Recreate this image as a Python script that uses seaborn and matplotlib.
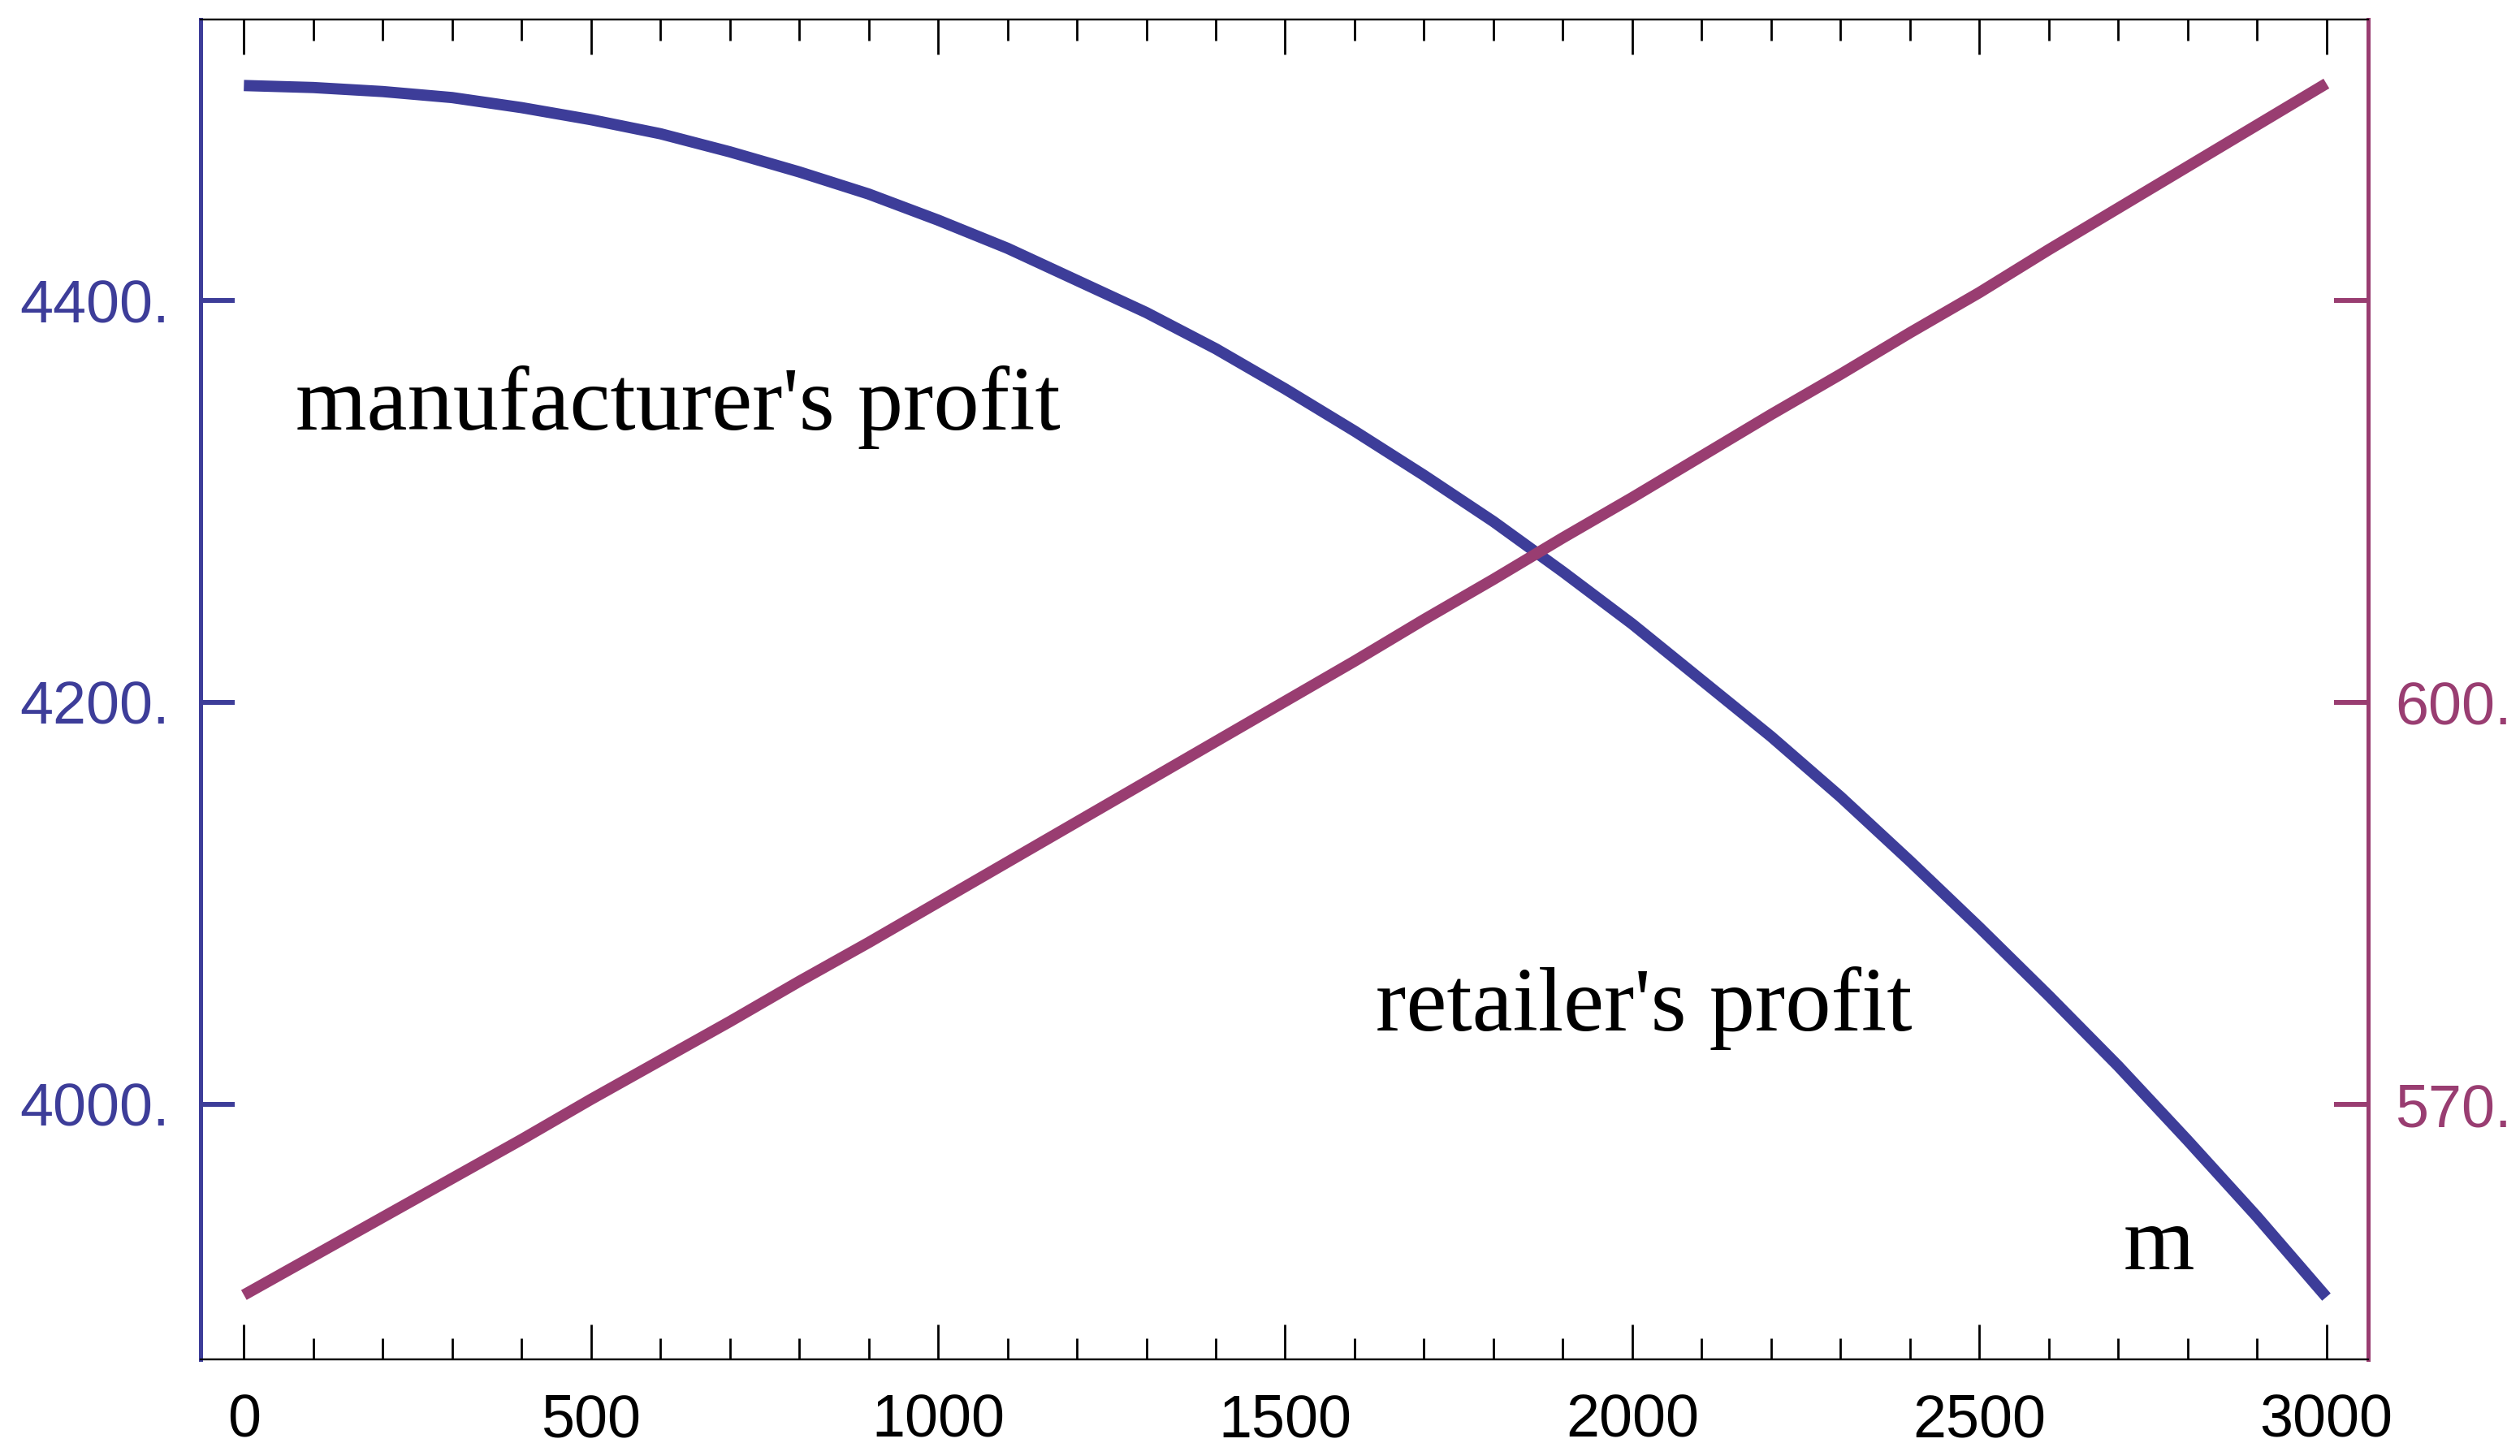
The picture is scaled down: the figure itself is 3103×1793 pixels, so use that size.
import matplotlib
matplotlib.use("Agg")
import matplotlib.pyplot as plt
import matplotlib.ticker as mticker
import numpy as np
import pandas as pd
import seaborn as sns

# values
m_values = [0, 100, 200, 300, 400, 500, 600, 700, 800, 900, 1000,
            1100, 1200, 1300, 1400, 1500, 1600, 1700, 1800, 1900, 2000,
            2100, 2200, 2300, 2400, 2500, 2600, 2700, 2800, 2900, 3000]
manufacturer_profit = [4507, 4506, 4504, 4501, 4496, 4490, 4483, 4474, 4464, 4453, 4440,
                       4426, 4410, 4394, 4376, 4356, 4335, 4313, 4290, 4265, 4239,
                       4211, 4183, 4153, 4121, 4088, 4054, 4019, 3982, 3944, 3904]
retailer_profit = [555.8, 558.7, 561.6, 564.5, 567.4, 570.4, 573.3, 576.2, 579.2, 582.1, 585.1,
                   588.1, 591.1, 594.1, 597.1, 600.1, 603.1, 606.2, 609.2, 612.3, 615.3,
                   618.4, 621.5, 624.5, 627.6, 630.6, 633.8, 636.9, 640.0, 643.1, 646.2]

x_major = [0, 500, 1000, 1500, 2000, 2500, 3000]
left_ticks = [4000, 4200, 4400]
right_ticks = [570, 600, 630]
right_labels = ["570.", "600.", ""]

blue = "#3D3D99"
purple = "#993D71"

sns.set_style("white")
plt.rcParams["font.family"] = ["Liberation Sans", "DejaVu Sans"]

df = pd.DataFrame({"m": m_values, "manufacturer": manufacturer_profit, "retailer": retailer_profit})

fig = plt.figure(figsize=(31.03, 17.93), dpi=100)
ax = fig.add_axes([0.0797, 0.0664, 0.86, 0.9204])
ax2 = ax.twinx()

sns.lineplot(data=df, x="m", y="manufacturer", ax=ax, color=blue, linewidth=10, solid_capstyle="butt")
sns.lineplot(data=df, x="m", y="retailer", ax=ax2, color=purple, linewidth=10, solid_capstyle="butt")

ax.set_xlim(-62, 3060)
ax.set_ylim(3873, 4540)
ax2.set_ylim(551, 651)
ax.set_xlabel("")
ax.set_ylabel("")
ax2.set_ylabel("")

# x axis: black, ticks inside on bottom and top
ax.xaxis.set_major_locator(mticker.FixedLocator(x_major))
ax.xaxis.set_minor_locator(mticker.MultipleLocator(100))
ax.tick_params(axis="x", which="major", direction="in", length=31, width=2, color="black",
               top=True, bottom=True, labelsize=53, pad=30, labelcolor="black")
ax.tick_params(axis="x", which="minor", direction="in", length=19, width=2, color="black",
               top=True, bottom=True)

# left y axis in blue
ax.set_yticks(left_ticks)
ax.yaxis.set_major_formatter(mticker.FuncFormatter(lambda v, p: f"{v:.0f}."))
ax.tick_params(axis="y", which="major", direction="in", length=30, width=4.3, color=blue,
               labelcolor=blue, labelsize=53, pad=28)

# right y axis in purple
ax2.set_yticks(right_ticks)
ax2.set_yticklabels(right_labels)
ax2.tick_params(axis="y", which="major", direction="in", length=30, width=4.3, color=purple,
                labelcolor=purple, labelsize=53, pad=24)

for a in (ax, ax2):
    a.spines["top"].set_color("black")
    a.spines["top"].set_linewidth(1.6)
    a.spines["bottom"].set_color("black")
    a.spines["bottom"].set_linewidth(1.6)
    a.spines["left"].set_color(blue)
    a.spines["left"].set_linewidth(3.6)
    a.spines["right"].set_color(purple)
    a.spines["right"].set_linewidth(3.6)

text_font = ["Liberation Serif", "DejaVu Serif"]
ax.text(0.0438, 0.694, "manufacturer's profit", transform=ax.transAxes, fontsize=81,
        family=text_font, ha="left", va="baseline", color="black")
ax.text(0.542, 0.2454, "retailer's profit", transform=ax.transAxes, fontsize=81,
        family=text_font, ha="left", va="baseline", color="black")
ax.text(0.887, 0.0673, "m", transform=ax.transAxes, fontsize=81,
        family=text_font, ha="left", va="baseline", color="black")

fig.savefig("out.png", dpi=100, facecolor="white")
